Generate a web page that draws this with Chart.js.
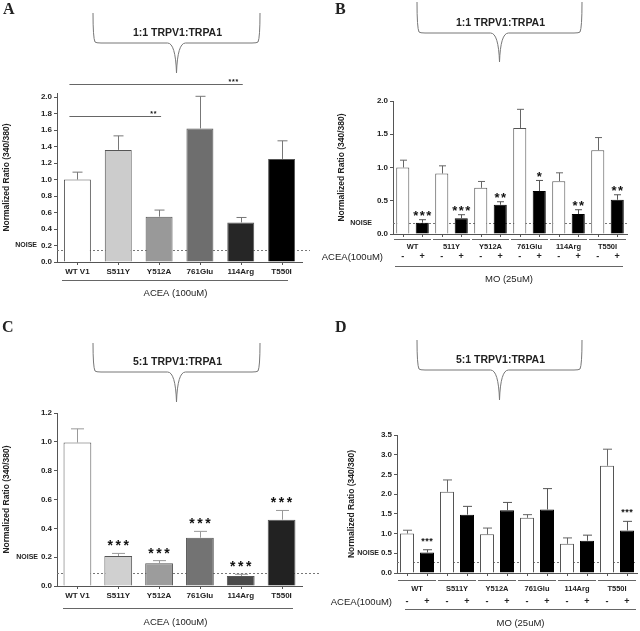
<!DOCTYPE html>
<html lang="en">
<head>
<meta charset="UTF-8">
<title>TRPV1:TRPA1 normalized ratios</title>
<script src="https://cdn.jsdelivr.net/npm/chart.js"></script>
<style>
  body { margin: 0; background: #fff; }
  #wrap { position: relative; width: 640px; height: 631px; }
  canvas { position: absolute; }
</style>
</head>
<body>
<div id="wrap">
  <canvas id="chartA" width="320" height="315" style="left:0;top:0"></canvas>
  <canvas id="chartB" width="320" height="315" style="left:320px;top:0"></canvas>
  <canvas id="chartC" width="320" height="316" style="left:0;top:315px"></canvas>
  <canvas id="chartD" width="320" height="316" style="left:320px;top:315px"></canvas>
</div>
<script>
// ---- data ----
const mutants = ['WT V1', 'S511Y', 'Y512A', '761Glu', '114Arg', 'T550I'];
const groupsB = ['WT', '511Y', 'Y512A', '761Glu', '114Arg', 'T550I'];
const groupsD = ['WT', 'S511Y', 'Y512A', '761Glu', '114Arg', 'T550I'];

// A: 1:1, ACEA only
const meanA = [1.00, 1.36, 0.55, 1.62, 0.48, 1.25];
const semA = [0.09, 0.17, 0.08, 0.39, 0.06, 0.22];
const colorsA = ['#ffffff', '#cccccc', '#999999', '#6e6e6e', '#262626', '#000000'];
const sigFromA = [0, 0];
const sigToA = [2, 4];
const sigLevelA = [1.77, 2.16];
const sigMarkA = ['**', '***'];

// B: 1:1, MO without / with ACEA
const meanB_mo = [1.00, 0.91, 0.695, 1.595, 0.795, 1.26];
const semB_mo = [0.11, 0.115, 0.095, 0.28, 0.125, 0.19];
const meanB_acea = [0.17, 0.235, 0.44, 0.645, 0.30, 0.515];
const semB_acea = [0.045, 0.055, 0.045, 0.16, 0.065, 0.075];
const starsB = ['***', '***', '**', '*', '**', '**'];

// C: 5:1, ACEA only
const meanC = [0.995, 0.208, 0.157, 0.335, 0.069, 0.46];
const semC = [0.095, 0.018, 0.019, 0.044, 0.012, 0.064];
const colorsC = ['#ffffff', '#d0d0d0', '#9c9c9c', '#737373', '#4a4a4a', '#222222'];
const starsC = ['', '***', '***', '***', '***', '***'];

// D: 5:1, MO without / with ACEA
const meanD_mo = [1.00, 2.06, 0.98, 1.40, 0.74, 2.72];
const semD_mo = [0.085, 0.30, 0.16, 0.08, 0.15, 0.42];
const meanD_acea = [0.52, 1.48, 1.59, 1.61, 0.82, 1.08];
const semD_acea = [0.07, 0.21, 0.20, 0.53, 0.14, 0.23];
const starsD = ['***', '', '', '', '', '***'];

const noiseA = 0.145, noiseB = 0.16, noiseC = 0.088, noiseD = 0.29;

// ---- drawing ----
const SANS = '"Liberation Sans", Arial, sans-serif';
const SERIF = '"Liberation Serif", "Times New Roman", serif';
const AXIS = '#555';
const INK = '#222';

function text(ctx, s, x, y, font, align, base) {
  ctx.save();
  ctx.font = font;
  ctx.fillStyle = INK;
  ctx.textAlign = align || 'center';
  ctx.textBaseline = base || 'middle';
  ctx.fillText(s, x, y);
  ctx.restore();
}

function line(ctx, x1, y1, x2, y2, color) {
  ctx.save();
  ctx.strokeStyle = color || AXIS;
  ctx.lineWidth = 1;
  ctx.beginPath();
  ctx.moveTo(x1, y1);
  ctx.lineTo(x2, y2);
  ctx.stroke();
  ctx.restore();
}

// asterisks centred `gap` px above y0
function starText(ctx, s, x, y0, fs, sp, gap) {
  const y = y0 - gap + 0.57 * fs;
  ctx.save();
  ctx.font = 'bold ' + fs + 'px ' + SANS;
  ctx.fillStyle = '#111';
  ctx.textAlign = 'center';
  ctx.textBaseline = 'alphabetic';
  for (let i = 0; i < s.length; i++) {
    ctx.fillText('*', x + (i - (s.length - 1) / 2) * sp, y);
  }
  ctx.restore();
}

function brace(ctx, b) {
  const xc = (b.x1 + b.x2) / 2;
  const r = 5;
  ctx.save();
  ctx.strokeStyle = '#777';
  ctx.lineWidth = 1;
  ctx.beginPath();
  ctx.moveTo(b.x1, b.top);
  ctx.quadraticCurveTo(b.x1, b.mid - r, b.x1 + 2, b.mid - 1);
  ctx.quadraticCurveTo(b.x1 + 3, b.mid, b.x1 + 3 + r, b.mid);
  ctx.lineTo(xc - 9, b.mid);
  ctx.quadraticCurveTo(xc - 1, b.mid, xc, b.tip);
  ctx.quadraticCurveTo(xc + 1, b.mid, xc + 9, b.mid);
  ctx.lineTo(b.x2 - 3 - r, b.mid);
  ctx.quadraticCurveTo(b.x2 - 3, b.mid, b.x2 - 2, b.mid - 1);
  ctx.quadraticCurveTo(b.x2, b.mid - r, b.x2, b.top);
  ctx.stroke();
  ctx.restore();
  text(ctx, b.title, xc + 1, b.titleY, 'bold 10.5px ' + SANS);
}

function makePanel(id, p) {
  const canvas = document.getElementById(id);
  const H = canvas.height;
  const paired = p.sets.length > 1;

  const decor = {
    id: 'decor',
    beforeDatasetsDraw(chart) {
      const ctx = chart.ctx, y = chart.scales.y, a = chart.chartArea;
      const yn = Math.round(y.getPixelForValue(p.noise)) + 0.5;
      ctx.save();
      ctx.strokeStyle = '#777';
      ctx.setLineDash([2, 2]);
      ctx.beginPath();
      ctx.moveTo(a.left, yn);
      ctx.lineTo(p.noiseEnd, yn);
      ctx.stroke();
      ctx.restore();
    },
    afterDatasetsDraw(chart) {
      const ctx = chart.ctx, y = chart.scales.y, a = chart.chartArea;
      p.sets.forEach((s, di) => {
        chart.getDatasetMeta(di).data.forEach((el, i) => {
          const x = Math.round(el.x) + 0.5;
          const top = y.getPixelForValue(s.mean[i] + s.sem[i]);
          line(ctx, x, el.y, x, top, s.err);
          line(ctx, x - p.cap / 2, top, x + p.cap / 2, top, s.err);
          if (s.stars && s.stars[i]) starText(ctx, s.stars[i], el.x, top, p.starSize, p.starSp, p.starGap);
          // small tick under the axis
          line(ctx, x, a.bottom, x, a.bottom + 3, AXIS);
        });
      });
    },
    afterDraw(chart) {
      const ctx = chart.ctx, y = chart.scales.y, a = chart.chartArea;
      // panel letter and brace header
      text(ctx, p.letter, p.letterX, p.letterY, 'bold 16px ' + SERIF, 'left', 'alphabetic');
      brace(ctx, p.brace);
      // NOISE label
      text(ctx, 'NOISE', a.left - p.noiseLabelGap, y.getPixelForValue(p.noiseLabelAt), 'bold 7px ' + SANS, 'right');
      // comparison bars
      if (p.sig) {
        const m = chart.getDatasetMeta(0).data;
        p.sig.from.forEach((f, k) => {
          const ys = Math.round(y.getPixelForValue(p.sig.level[k])) + 0.5;
          const x1 = m[f].x - 8, x2 = m[p.sig.to[k]].x + 2;
          line(ctx, x1, ys, x2, ys, '#666');
          const mk = p.sig.mark[k];
          starText(ctx, mk, x2 - 6 - (mk.length - 1) * 1.75, ys, 7, 3.5, 4.5);
        });
      }
      const b = a.bottom;
      if (!paired) {
        line(ctx, p.underFrom, b + p.underY + 0.5, p.underTo, b + p.underY + 0.5, '#666');
        text(ctx, 'ACEA (100uM)', (a.left + a.right) / 2 - 4, b + p.treatY, '9.5px ' + SANS);
        return;
      }
      const m0 = chart.getDatasetMeta(0).data, m1 = chart.getDatasetMeta(1).data;
      const half = m1[0].x - m0[0].x;
      p.groups.forEach((g, i) => {
        const cx = (m0[i].x + m1[i].x) / 2;
        line(ctx, cx - half + 1, b + p.grpLineY + 0.5, cx + half - 1, b + p.grpLineY + 0.5, '#666');
        text(ctx, g, cx, b + p.grpLabelY, 'bold 7.5px ' + SANS);
        text(ctx, '-', m0[i].x, b + p.signY, 'bold 9px ' + SANS);
        text(ctx, '+', m1[i].x, b + p.signY, 'bold 9px ' + SANS);
      });
      text(ctx, 'ACEA(100uM)', p.aceaRight, b + p.signY, '9.5px ' + SANS, 'right');
      line(ctx, p.longFrom, b + p.longY + 0.5, p.longTo, b + p.longY + 0.5, '#666');
      text(ctx, 'MO (25uM)', (p.longFrom + p.longTo) / 2, b + p.moY, '9.5px ' + SANS);
    }
  };

  return new Chart(canvas, {
    type: 'bar',
    data: {
      labels: p.labels,
      datasets: p.sets.map(s => ({
        data: s.mean,
        backgroundColor: s.colors,
        borderColor: s.border,
        borderWidth: 1,
        barPercentage: p.barPct,
        categoryPercentage: p.catPct
      }))
    },
    options: {
      responsive: false,
      animation: false,
      layout: { padding: { left: p.padL, right: 320 - p.right, top: p.top, bottom: H - p.bottom - p.xH } },
      plugins: { legend: { display: false }, tooltip: { enabled: false } },
      scales: {
        x: {
          grid: { display: true, drawOnChartArea: false, drawTicks: false },
          border: { color: AXIS },
          ticks: { display: !paired, color: INK, font: { family: SANS, size: 8, weight: 'bold' }, padding: 5, maxRotation: 0, autoSkip: false },
          afterFit: s => { s.height = p.xH; }
        },
        y: {
          min: 0,
          max: p.max,
          ticks: { stepSize: p.step, includeBounds: false, color: INK, font: { family: SANS, size: 8, weight: 'bold' }, padding: 2, callback: v => v.toFixed(1) },
          grid: { drawOnChartArea: false, tickLength: 3, color: AXIS },
          border: { color: AXIS },
          title: { display: true, text: 'Normalized Ratio (340/380)', color: INK, font: { family: SANS, size: 8.5, weight: 'bold' }, padding: 2 },
          afterFit: s => { s.width = p.yW; }
        }
      }
    },
    plugins: [decor]
  });
}

makePanel('chartA', {
  letter: 'A', letterX: 3, letterY: 14,
  brace: { x1: 93, x2: 260, top: 13, mid: 43, tip: 73, titleY: 33, title: '1:1 TRPV1:TRPA1' },
  labels: mutants,
  sets: [{ mean: meanA, sem: semA, colors: colorsA, border: '#555', err: '#777' }],
  sig: { from: sigFromA, to: sigToA, level: sigLevelA, mark: sigMarkA },
  max: 2.05, step: 0.2, padL: 0, yW: 57, right: 302, top: 93, bottom: 262, xH: 20,
  barPct: 0.66, catPct: 1, cap: 10,
  noise: noiseA, noiseEnd: 310, noiseLabelAt: 0.2, noiseLabelGap: 20,
  underFrom: 62, underTo: 288, underY: 18, treatY: 31
});

makePanel('chartB', {
  letter: 'B', letterX: 15, letterY: 14,
  brace: { x1: 97, x2: 262, top: 2, mid: 33, tip: 62, titleY: 23, title: '1:1 TRPV1:TRPA1' },
  labels: groupsB, groups: groupsB,
  sets: [
    { mean: meanB_mo, sem: semB_mo, colors: '#ffffff', border: '#555', err: '#666' },
    { mean: meanB_acea, sem: semB_acea, colors: '#000000', border: '#000', err: '#555', stars: starsB }
  ],
  max: 2.0, step: 0.5, padL: 15, yW: 58, right: 307, top: 101, bottom: 234, xH: 0,
  barPct: 0.67, catPct: 1, cap: 7, starSize: 13, starSp: 6.5, starGap: 7,
  noise: noiseB, noiseEnd: 307, noiseLabelAt: 0.16, noiseLabelGap: 21,
  grpLineY: 5, grpLabelY: 13, signY: 23, longY: 32, moY: 45,
  aceaRight: 63, longFrom: 75, longTo: 303
});

makePanel('chartC', {
  letter: 'C', letterX: 2, letterY: 17,
  brace: { x1: 93, x2: 260, top: 28, mid: 57, tip: 87, titleY: 47, title: '5:1 TRPV1:TRPA1' },
  labels: mutants,
  sets: [{ mean: meanC, sem: semC, colors: colorsC, border: '#555', err: '#999', stars: starsC }],
  max: 1.2, step: 0.2, padL: 0, yW: 57, right: 302, top: 98, bottom: 271, xH: 20,
  barPct: 0.68, catPct: 1, cap: 13, starSize: 14, starSp: 8, starGap: 11,
  noise: noiseC, noiseEnd: 320, noiseLabelAt: 0.2, noiseLabelGap: 19,
  underFrom: 63, underTo: 293, underY: 22, treatY: 36
});

makePanel('chartD', {
  letter: 'D', letterX: 15, letterY: 17,
  brace: { x1: 97, x2: 262, top: 25, mid: 55, tip: 85, titleY: 45, title: '5:1 TRPV1:TRPA1' },
  labels: groupsD, groups: groupsD,
  sets: [
    { mean: meanD_mo, sem: semD_mo, colors: '#ffffff', border: '#555', err: '#666' },
    { mean: meanD_acea, sem: semD_acea, colors: '#000000', border: '#000', err: '#555', stars: starsD }
  ],
  max: 3.5, step: 0.5, padL: 25, yW: 52, right: 317, top: 120, bottom: 258, xH: 0,
  barPct: 0.7, catPct: 1, cap: 9, starSize: 9, starSp: 4, starGap: 11,
  noise: noiseD, noiseEnd: 317, noiseLabelAt: 0.5, noiseLabelGap: 18,
  grpLineY: 7, grpLabelY: 16, signY: 29, longY: 36, moY: 50,
  aceaRight: 72, longFrom: 85, longTo: 316
});
</script>
</body>
</html>
